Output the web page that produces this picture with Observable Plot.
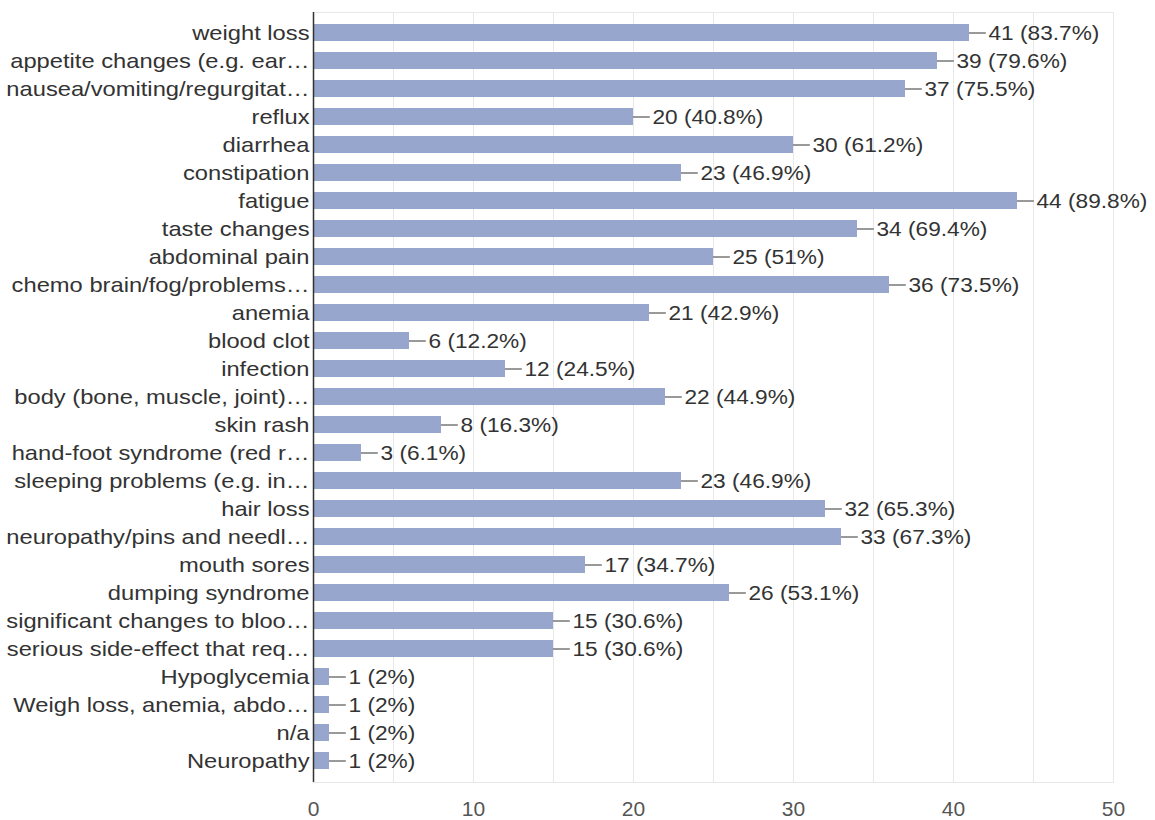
<!DOCTYPE html>
<html>
<head>
<meta charset="utf-8">
<script src="https://cdn.jsdelivr.net/npm/d3@7"></script>
<script src="https://cdn.jsdelivr.net/npm/@observablehq/plot@0.6"></script>
<style>
  html, body { margin: 0; padding: 0; background: #fff; }
  #chart svg { display: block; }
</style>
</head>
<body>
<div id="chart"></div>
<script>
const categories = [
  "weight loss",
  "appetite changes (e.g. ear…",
  "nausea/vomiting/regurgitat…",
  "reflux",
  "diarrhea",
  "constipation",
  "fatigue",
  "taste changes",
  "abdominal pain",
  "chemo brain/fog/problems…",
  "anemia",
  "blood clot",
  "infection",
  "body (bone, muscle, joint)…",
  "skin rash",
  "hand-foot syndrome (red r…",
  "sleeping problems (e.g. in…",
  "hair loss",
  "neuropathy/pins and needl…",
  "mouth sores",
  "dumping syndrome",
  "significant changes to bloo…",
  "serious side-effect that req…",
  "Hypoglycemia",
  "Weigh loss, anemia, abdo…",
  "n/a",
  "Neuropathy"
];
const counts = [41, 39, 37, 20, 30, 23, 44, 34, 25, 36, 21, 6, 12, 22, 8, 3, 23, 32, 33, 17, 26, 15, 15, 1, 1, 1, 1];
const percents = ["83.7%", "79.6%", "75.5%", "40.8%", "61.2%", "46.9%", "89.8%", "69.4%", "51%", "73.5%", "42.9%", "12.2%", "24.5%", "44.9%", "16.3%", "6.1%", "46.9%", "65.3%", "67.3%", "34.7%", "53.1%", "30.6%", "30.6%", "2%", "2%", "2%", "2%"];
const xTicks = [0, 10, 20, 30, 40, 50];
const gridTicks = [5, 10, 15, 20, 25, 30, 35, 40, 45, 50];

const data = categories.map((c, i) => ({cat: c, v: counts[i], label: `${counts[i]} (${percents[i]})`}));

const font = "'Liberation Sans', Arial, Helvetica, sans-serif";
const chart = Plot.plot({
  width: 1155,
  height: 820,
  marginLeft: 313,
  marginRight: 42,
  marginTop: 6,
  marginBottom: 33,
  style: {fontFamily: font, fontSize: "21px", color: "#333", background: "#fff"},
  x: {domain: [0, 50], ticks: xTicks, tickSize: 0, label: null},
  y: {domain: categories, padding: 0.4, tickSize: 0, label: null},
  marks: [
    Plot.ruleX(gridTicks, {stroke: "#e8e8e8", strokeWidth: 1, insetTop: 6, insetBottom: 5}),
    Plot.frame({stroke: "#e8e8e8", insetTop: 6, insetBottom: 5}),
    Plot.barX(data, {y: "cat", x: "v", fill: "#97a6cc"}),
    Plot.ruleY(data, {y: "cat", x1: "v", x2: d => d.v + 1.05, stroke: "#555", strokeWidth: 1.2}),
    Plot.text(data, {y: "cat", x: "v", text: "label", textAnchor: "start", dx: 19, fill: "#333", fontSize: 21, className: "vlabel"}),
    Plot.ruleX([0], {stroke: "#333", strokeWidth: 1.5, insetTop: 6, insetBottom: 5}),
    Plot.axisY({tickSize: 0, tickPadding: 4, fill: "#333", fontSize: 21, label: null, className: "ylab"}),
    Plot.axisX({ticks: xTicks, tickSize: 0, tickPadding: 14, fill: "#555", fontSize: 21, label: null})
  ]
});
document.getElementById("chart").appendChild(chart);

// slight horizontal stretch of texts to match the reference's wide glyphs
function stretch(selector, sx) {
  chart.querySelectorAll(selector).forEach(t => {
    const tr = t.getAttribute("transform") || "";
    t.setAttribute("transform", tr + ` scale(${sx},1)`);
  });
}
stretch(".ylab text", 1.13);
stretch(".vlabel text", 1.08);
</script>
</body>
</html>
